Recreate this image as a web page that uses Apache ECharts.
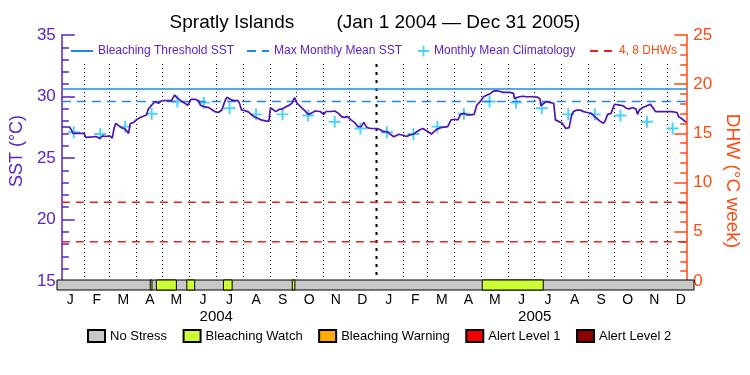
<!DOCTYPE html>
<html><head><meta charset="utf-8">
<script src="https://cdn.jsdelivr.net/npm/echarts@6/dist/echarts.min.js"></script>
<style>html,body{margin:0;padding:0;background:#fff}#c{width:750px;height:375px}</style>
</head><body><div id="c"></div>
<script>
// ---------------- DATA ----------------
const titleText = 'Spratly Islands        (Jan 1 2004 \u2014 Dec 31 2005)';
const periodStart = '2004-01-01';
const periodEnd = '2006-01-01';

const sstDates = [
 '2004-01-01','2004-01-10','2004-01-12','2004-01-14','2004-01-27','2004-01-29','2004-02-06','2004-02-10','2004-02-14','2004-02-18',
 '2004-02-21','2004-02-26','2004-02-29','2004-03-02','2004-03-04','2004-03-07','2004-03-11','2004-03-14','2004-03-17','2004-03-19',
 '2004-03-21','2004-03-25','2004-03-29','2004-04-02','2004-04-05','2004-04-07','2004-04-09','2004-04-11','2004-04-13','2004-04-15',
 '2004-04-19','2004-04-21','2004-04-23','2004-04-24','2004-04-27','2004-05-08','2004-05-10','2004-05-12','2004-05-14','2004-05-16',
 '2004-05-20','2004-05-24','2004-05-27','2004-05-29','2004-05-31','2004-06-05','2004-06-09','2004-06-11','2004-06-15','2004-06-21',
 '2004-06-25','2004-06-28','2004-07-02','2004-07-06','2004-07-08','2004-07-10','2004-07-12','2004-07-14','2004-07-18','2004-07-21',
 '2004-07-25','2004-07-27','2004-07-29','2004-08-02','2004-08-06','2004-08-10','2004-08-13','2004-08-17','2004-08-21','2004-08-23',
 '2004-08-27','2004-08-30','2004-09-01','2004-09-03','2004-09-07','2004-09-11','2004-09-15','2004-09-19','2004-09-23','2004-09-26',
 '2004-09-29','2004-10-02','2004-10-06','2004-10-11','2004-10-15','2004-10-19','2004-10-23','2004-10-29','2004-11-02','2004-11-05',
 '2004-11-11','2004-11-15','2004-11-19','2004-11-23','2004-11-26','2004-11-30','2004-12-04','2004-12-08','2004-12-12','2004-12-16',
 '2004-12-19','2004-12-21','2004-12-23','2004-12-27','2005-01-04','2005-01-08','2005-01-11','2005-01-15','2005-01-19','2005-01-23',
 '2005-01-25','2005-01-29','2005-01-31','2005-02-03','2005-02-07','2005-02-11','2005-02-15','2005-02-19','2005-02-22','2005-02-26',
 '2005-02-28','2005-03-04','2005-03-08','2005-03-10','2005-03-14','2005-03-19','2005-03-27','2005-03-31','2005-04-04','2005-04-08',
 '2005-04-11','2005-04-15','2005-04-19','2005-04-23','2005-04-27','2005-04-29','2005-04-30','2005-05-04','2005-05-08','2005-05-12',
 '2005-05-16','2005-05-20','2005-05-25','2005-05-31','2005-06-08','2005-06-12','2005-06-13','2005-06-15','2005-06-19','2005-06-23',
 '2005-06-27','2005-07-04','2005-07-10','2005-07-13','2005-07-14','2005-07-16','2005-07-20','2005-07-24','2005-07-29','2005-07-31',
 '2005-08-02','2005-08-08','2005-08-12','2005-08-14','2005-08-16','2005-08-19','2005-08-21','2005-08-25','2005-08-29','2005-09-02',
 '2005-09-06','2005-09-11','2005-09-13','2005-09-17','2005-09-21','2005-09-25','2005-09-27','2005-09-30','2005-10-04','2005-10-06',
 '2005-10-08','2005-10-14','2005-10-18','2005-10-22','2005-10-25','2005-10-29','2005-11-02','2005-11-04','2005-11-06','2005-11-10',
 '2005-11-15','2005-11-19','2005-11-23','2005-11-25','2005-12-05','2005-12-14','2005-12-20','2005-12-22','2005-12-25','2005-12-27',
 '2005-12-31'
];
const sstValues = [
 27.52,27.52,27.3,27.0,27.0,26.68,26.72,26.75,26.6,26.8,
 26.75,26.8,26.62,27.4,27.8,27.65,27.45,27.4,27.2,27.0,
 27.8,27.9,28.15,28.3,28.4,28.55,28.5,28.96,29.1,29.3,
 29.58,29.66,29.45,29.6,29.66,29.66,29.77,30.12,29.95,29.8,
 29.6,29.45,29.28,29.3,29.77,29.77,29.66,29.3,29.17,29.1,
 28.9,28.77,28.7,28.9,29.3,29.7,29.93,29.85,29.7,29.66,
 29.66,29.4,28.9,28.85,28.75,28.5,28.36,28.23,28.1,27.95,
 28.0,28.0,29.1,29.0,28.77,28.95,29.0,29.17,29.3,29.45,
 29.9,29.45,29.17,28.85,28.55,28.65,28.82,28.78,28.55,28.78,
 28.78,28.82,28.65,28.36,28.3,28.36,28.1,27.9,27.55,27.55,
 27.9,27.65,27.47,27.4,27.4,27.28,27.14,27.14,26.93,26.73,
 26.65,26.93,26.98,26.85,26.75,26.88,26.93,27.14,27.28,27.4,
 27.55,27.14,26.95,27.0,27.33,27.47,27.55,28.1,28.15,28.1,
 28.55,28.63,28.5,28.5,28.55,29.04,29.3,29.58,29.98,30.12,
 30.25,30.45,30.45,30.34,30.34,30.25,29.85,29.75,29.98,30.02,
 29.98,29.98,29.95,29.8,29.25,29.4,29.58,29.52,29.45,28.1,
 28.0,27.82,27.4,27.28,27.47,28.5,28.77,28.9,28.9,28.77,
 28.7,28.63,28.5,28.23,28.0,27.82,28.0,28.55,28.63,28.55,
 29.37,29.3,29.25,29.04,28.98,29.1,28.98,28.55,28.9,29.1,
 29.25,29.37,28.98,28.77,28.77,28.77,28.7,28.36,28.23,28.1,
 27.9
];
const climDates = [
 '2004-01-15','2004-02-15','2004-03-15','2004-04-15','2004-05-15','2004-06-15','2004-07-15','2004-08-15','2004-09-15','2004-10-15','2004-11-15','2004-12-15',
 '2005-01-15','2005-02-15','2005-03-15','2005-04-15','2005-05-15','2005-06-15','2005-07-15','2005-08-15','2005-09-15','2005-10-15','2005-11-15','2005-12-15'
];
const climValues = [
 27.1,26.95,27.55,28.6,29.6,29.5,29.05,28.55,28.55,28.45,27.95,27.4,
 27.1,26.95,27.55,28.6,29.6,29.5,29.05,28.55,28.55,28.45,27.95,27.4
];
const thresholdSST = 30.6;
const mmmSST = 29.6;
const dhwLevels = [4, 8];
const monthStarts = [
 '2004-02-01','2004-03-01','2004-04-01','2004-05-01','2004-06-01','2004-07-01','2004-08-01','2004-09-01','2004-10-01','2004-11-01','2004-12-01',
 '2005-01-01',
 '2005-02-01','2005-03-01','2005-04-01','2005-05-01','2005-06-01','2005-07-01','2005-08-01','2005-09-01','2005-10-01','2005-11-01','2005-12-01'
];
const yearStart = '2005-01-01';
const monthLabels = ['J','F','M','A','M','J','J','A','S','O','N','D','J','F','M','A','M','J','J','A','S','O','N','D'];
const yearLabels = ['2004','2005'];
const sstAxis = {min: 15, max: 35, interval: 5};
const dhwAxis = {min: 0, max: 25, interval: 5};
const stressNames = ['No Stress','Bleaching Watch','Bleaching Warning','Alert Level 1','Alert Level 2'];
const stressColors = ['#c8c8c8','#ccff33','#ffaa00','#f20000','#8b0000'];
const stressSpans = [
  [['2004-01-01','2006-01-01']],
  [['2004-04-17','2004-04-19'],['2004-04-24','2004-05-17'],['2004-05-29','2004-06-07'],['2004-07-10','2004-07-20'],['2004-09-27','2004-09-30'],['2005-05-03','2005-07-12']],
  [],
  [],
  []
];

// ---------------- STYLE ----------------
const FONT = 'Liberation Sans';
const PURPLE = '#5a22d0';
const LINEPURPLE = '#4c14b8';
const ORANGE = '#ff4a10';
const RED = '#e8231f';
const BLUE = '#1e88ee';
const CYAN = '#1ec8f5';
const G = {left: 57, right: 56};
const tp = s => echarts.time.parse(s).getTime();
const plusPath = 'path://M4.2,0H5.8V4.2H10V5.8H5.8V10H4.2V5.8H0V4.2H4.2Z';

const chart = echarts.init(document.getElementById('c'), null, {renderer: 'canvas'});

const stressSeries = stressNames.map((name, i) => ({
  type: 'custom', name, xAxisIndex: 2, yAxisIndex: 3, silent: true,
  itemStyle: {color: stressColors[i], borderColor: '#000', borderWidth: 1},
  data: stressSpans[i].map(s => [tp(s[0]), tp(s[1])]),
  renderItem: (params, api) => {
    const a = api.coord([api.value(0), 1]);
    const b = api.coord([api.value(1), 0]);
    return {type: 'rect', shape: {x: a[0], y: a[1], width: b[0] - a[0], height: b[1] - a[1]},
      style: {fill: stressColors[i], stroke: '#000', lineWidth: 1}};
  }
}));

const option = {
  animation: false,
  backgroundColor: '#fff',
  textStyle: {fontFamily: FONT},
  title: {text: titleText, left: 'center', top: 13, padding: 0,
    textStyle: {fontFamily: FONT, fontSize: 19, fontWeight: 'normal', color: '#000'}},
  legend: [
    {left: 70, top: 45, padding: 0, itemWidth: 22, itemHeight: 12, itemGap: 12, selectedMode: false,
      itemStyle: {opacity: 0},
      textStyle: {fontFamily: FONT, fontSize: 12, color: PURPLE},
      data: ['Bleaching Threshold SST', 'Max Monthly Mean SST']},
    {left: 418, top: 45, padding: 0, itemWidth: 11, itemHeight: 11, selectedMode: false,
      textStyle: {fontFamily: FONT, fontSize: 12, color: PURPLE},
      data: ['Monthly Mean Climatology']},
    {left: 589, top: 45, padding: 0, itemWidth: 24, itemHeight: 12, selectedMode: false,
      itemStyle: {opacity: 0},
      textStyle: {fontFamily: FONT, fontSize: 12, color: ORANGE},
      data: ['4, 8 DHWs']},
    {left: 87, top: 329, padding: 0, itemWidth: 17, itemHeight: 12, itemGap: 15.5, selectedMode: false, icon: 'rect',
      textStyle: {fontFamily: FONT, fontSize: 13, color: '#000'},
      data: stressNames}
  ],
  grid: [
    {left: G.left, right: G.right, top: 35, bottom: 94},
    {left: G.left, right: G.right, top: 64, bottom: 95},
    {left: G.left, right: G.right, top: 280, bottom: 85}
  ],
  xAxis: [
    {type: 'time', gridIndex: 0, min: periodStart, max: periodEnd, position: 'top',
      axisLine: {show: true, lineStyle: {color: '#000', width: 1}}, axisTick: {show: false},
      axisLabel: {show: false}, splitLine: {show: false}},
    {type: 'time', gridIndex: 1, min: periodStart, max: periodEnd, show: false},
    {type: 'time', gridIndex: 2, min: periodStart, max: periodEnd, show: false},
    {type: 'category', gridIndex: 2, data: monthLabels, position: 'bottom', boundaryGap: true,
      axisLine: {show: false}, axisTick: {show: false},
      axisLabel: {interval: 0, margin: 3, fontFamily: FONT, fontSize: 14, color: '#000'}},
    {type: 'category', gridIndex: 2, data: yearLabels, position: 'bottom', offset: 16, boundaryGap: true,
      axisLine: {show: false}, axisTick: {show: false},
      axisLabel: {interval: 0, margin: 3, fontFamily: FONT, fontSize: 15, color: '#000'}}
  ],
  yAxis: [
    {type: 'value', gridIndex: 0, position: 'left', min: sstAxis.min, max: sstAxis.max, interval: sstAxis.interval,
      name: 'SST (\u00b0C)', nameLocation: 'middle', nameGap: 31, nameRotate: 90,
      nameTextStyle: {fontFamily: FONT, fontSize: 18, color: PURPLE, padding: [0, 0, 0, 14]},
      axisLine: {show: true, lineStyle: {color: PURPLE, width: 1.5}},
      axisTick: {show: true, inside: true, length: 13, lineStyle: {color: PURPLE, width: 1.5}},
      minorTick: {show: true, splitNumber: 5, length: 7, lineStyle: {color: PURPLE, width: 1.5}},
      axisLabel: {fontFamily: FONT, fontSize: 17, color: PURPLE, margin: 6},
      splitLine: {show: false}},
    {type: 'value', gridIndex: 0, position: 'right', min: dhwAxis.min, max: dhwAxis.max, interval: dhwAxis.interval,
      name: 'DHW (\u00b0C week)', nameLocation: 'middle', nameGap: 34, nameRotate: -90,
      nameTextStyle: {fontFamily: FONT, fontSize: 19, color: ORANGE, padding: [0, 0, 0, 46]},
      axisLine: {show: true, lineStyle: {color: ORANGE, width: 1.5}},
      axisTick: {show: true, inside: true, length: 13, lineStyle: {color: ORANGE, width: 1.5}},
      minorTick: {show: true, splitNumber: 5, length: 7, lineStyle: {color: ORANGE, width: 1.5}},
      axisLabel: {fontFamily: FONT, fontSize: 17, color: ORANGE, margin: 6},
      splitLine: {show: false}},
    {type: 'value', gridIndex: 1, min: 0, max: 1, show: false},
    {type: 'value', gridIndex: 2, min: 0, max: 1, show: false}
  ],
  series: [
    {type: 'custom', name: 'monthLines', xAxisIndex: 1, yAxisIndex: 2, silent: true,
      data: monthStarts.map(d => [tp(d)]),
      renderItem: (params, api) => {
        const a = api.coord([api.value(0), 1]);
        const b = api.coord([api.value(0), 0]);
        const isYear = api.value(0) === tp(yearStart);
        return {type: 'line', shape: {x1: Math.round(a[0]) + 0.5, y1: a[1], x2: Math.round(b[0]) + 0.5, y2: b[1]},
          style: {stroke: '#000', lineWidth: isYear ? 2 : 1, lineDash: isYear ? [3, 5] : [1, 3]}};
      }},
    {type: 'line', name: '4, 8 DHWs', xAxisIndex: 0, yAxisIndex: 1, symbol: 'none', silent: true,
      lineStyle: {color: RED, width: 1.5, type: [8, 6]}, itemStyle: {color: RED},
      data: [[periodStart, dhwLevels[0]], [periodEnd, dhwLevels[0]], [periodEnd, '-'],
             [periodStart, dhwLevels[1]], [periodEnd, dhwLevels[1]]]},
    {type: 'line', name: 'Bleaching Threshold SST', xAxisIndex: 0, yAxisIndex: 0, symbol: 'none', silent: true,
      lineStyle: {color: BLUE, width: 1.5}, itemStyle: {color: BLUE},
      data: [[periodStart, thresholdSST], [periodEnd, thresholdSST]]},
    {type: 'line', name: 'Max Monthly Mean SST', xAxisIndex: 0, yAxisIndex: 0, symbol: 'none', silent: true,
      lineStyle: {color: BLUE, width: 1.5, type: [9, 6]}, itemStyle: {color: BLUE},
      data: [[periodStart, mmmSST], [periodEnd, mmmSST]]},
    {type: 'line', name: 'SST', xAxisIndex: 0, yAxisIndex: 0, symbol: 'none', silent: true,
      lineStyle: {color: LINEPURPLE, width: 1.7}, itemStyle: {color: LINEPURPLE},
      data: sstDates.map((d, i) => [d, sstValues[i]])},
    {type: 'scatter', name: 'Monthly Mean Climatology', xAxisIndex: 0, yAxisIndex: 0, silent: true,
      symbol: plusPath, symbolSize: 12, itemStyle: {color: CYAN},
      data: climDates.map((d, i) => [d, climValues[i]])},
    ...stressSeries
  ]
};
chart.setOption(option);
</script>
</body></html>
